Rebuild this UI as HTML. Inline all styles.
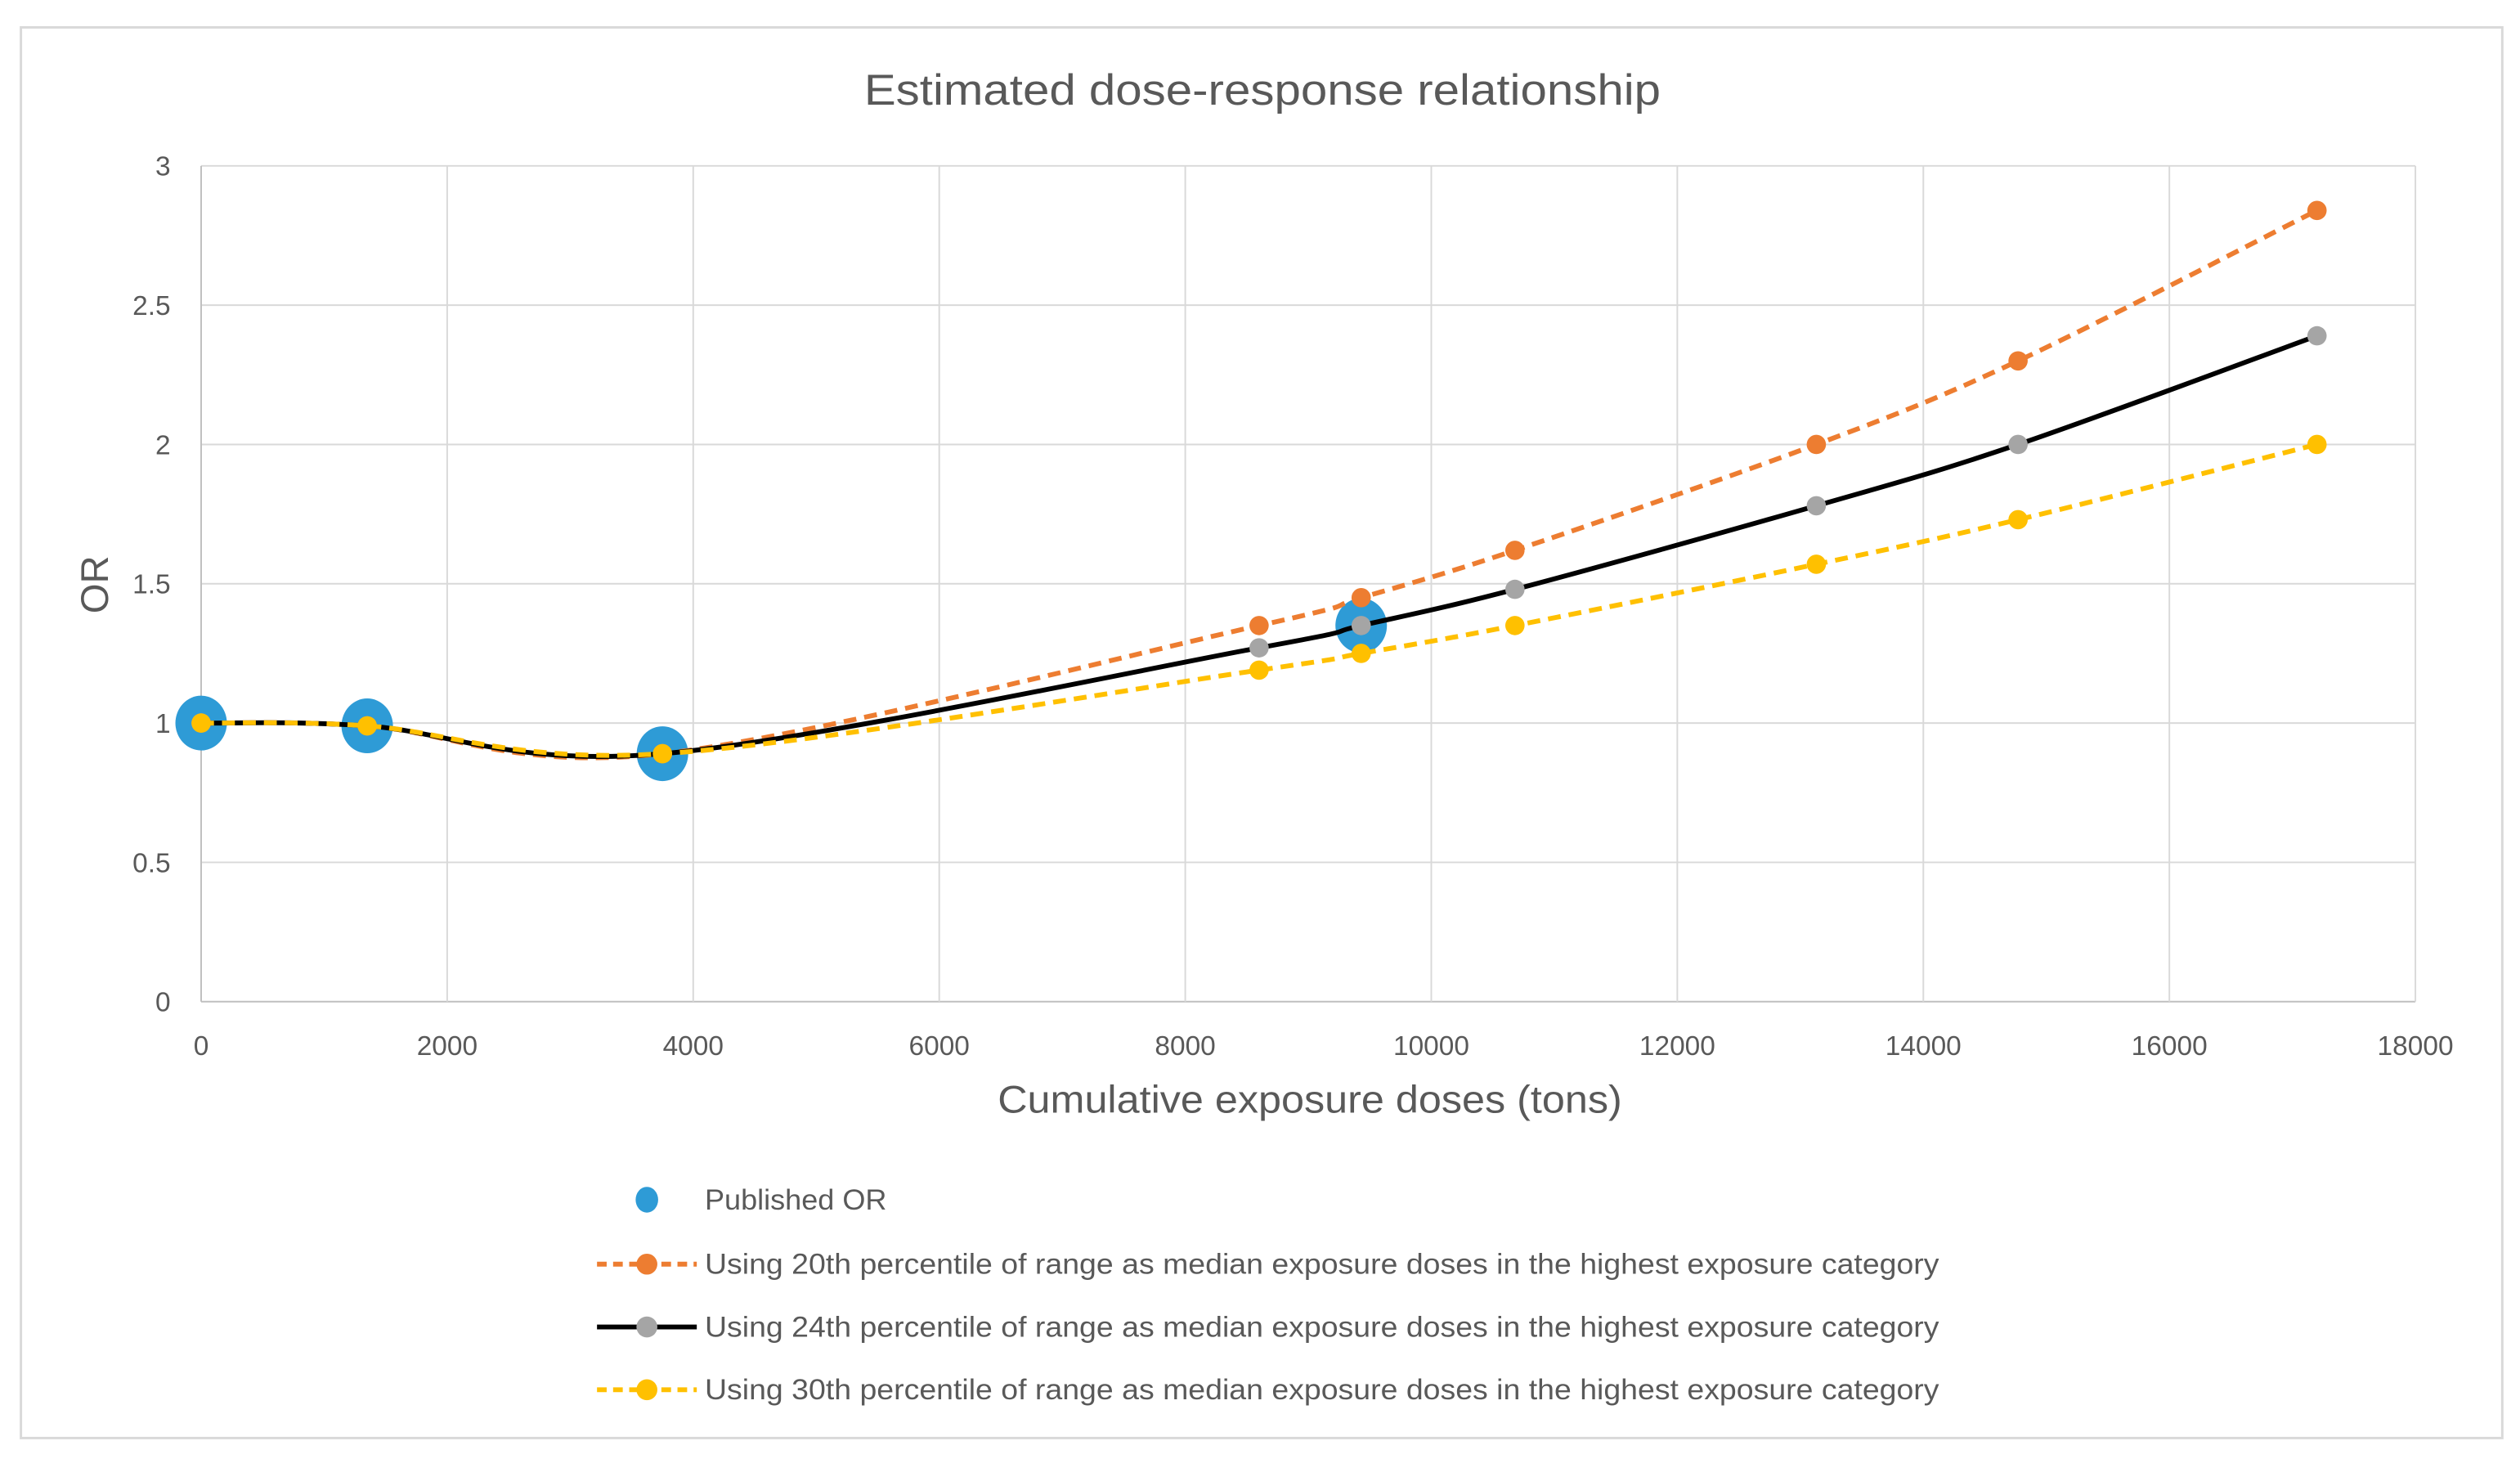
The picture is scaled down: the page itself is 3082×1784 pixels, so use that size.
<!DOCTYPE html>
<html><head><meta charset="utf-8"><style>
html,body{margin:0;padding:0;background:#fff}
svg{display:block}
text{font-family:"Liberation Sans",sans-serif;fill:#595959}
</style></head><body>
<svg id="chart" width="3082" height="1784" viewBox="0 0 1566 906" preserveAspectRatio="none" xmlns="http://www.w3.org/2000/svg">
<rect x="13" y="17" width="1542" height="876" fill="#fff" stroke="#d9d9d9" stroke-width="1.5"/>
<text x="537" y="65" font-size="27" textLength="495" lengthAdjust="spacingAndGlyphs">Estimated dose-response relationship</text>
<g id="grid"></g><g id="series"></g>
<text transform="translate(67,363) rotate(-90)" font-size="24" text-anchor="middle">OR</text>
<text x="620" y="691" font-size="24" textLength="388" lengthAdjust="spacingAndGlyphs">Cumulative exposure doses (tons)</text>
<g id="legend"></g>
</svg>
<script>
const xs = [0,1350,3750,8600,9430,10680,13130,14770,17200];
const p20 = [1,0.99,0.89,1.35,1.45,1.62,2.0,2.30,2.84];
const p24 = [1,0.99,0.89,1.27,1.35,1.48,1.78,2.0,2.39];
const p30 = [1,0.99,0.89,1.19,1.25,1.35,1.57,1.73,2.0];
const pubX = [0,1350,3750,9430];
const pubY = [1,0.99,0.89,1.35];
const xTicks = [0,2000,4000,6000,8000,10000,12000,14000,16000,18000];
const yTicks = [0,0.5,1,1.5,2,2.5,3];
const legendLabels = ["Published OR","Using 20th percentile of range as median exposure doses in the highest exposure category","Using 24th percentile of range as median exposure doses in the highest exposure category","Using 30th percentile of range as median exposure doses in the highest exposure category"];
const NS="http://www.w3.org/2000/svg";
const X=v=>125+v/18000*1376, Y=v=>622-v/3*519;
function mk(tag,attrs,parent){const e=document.createElementNS(NS,tag);for(const k in attrs)e.setAttribute(k,attrs[k]);parent.appendChild(e);return e;}
const grid=document.getElementById('grid'), ser=document.getElementById('series'), leg=document.getElementById('legend');
yTicks.forEach(t=>{
  const l=mk('line',{x1:125,x2:1501,y1:Y(t),y2:Y(t),stroke:t===0?'#bfbfbf':'#d9d9d9','stroke-width':1},grid);
  
  
  const tx=mk('text',{x:106,y:Y(t)+6,'font-size':17,'text-anchor':'end'},grid);tx.textContent=t;
  
  
});
xTicks.forEach(t=>{
  const l=mk('line',{x1:X(t),x2:X(t),y1:103,y2:622,stroke:t===0?'#bfbfbf':'#d9d9d9','stroke-width':1},grid);
  
  
  const tx=mk('text',{x:X(t),y:655,'font-size':17,'text-anchor':'middle'},grid);tx.textContent=t;
  
  
});
function smooth(ys){
  const P=xs.map((x,i)=>[X(x),Y(ys[i])]);let d=`M${P[0][0]},${P[0][1]}`;
  for(let i=0;i<P.length-1;i++){const p0=P[i-1]||P[i],p1=P[i],p2=P[i+1],p3=P[i+2]||P[i+1];
    const c1=[p1[0]+(p2[0]-p0[0])/6,p1[1]+(p2[1]-p0[1])/6],c2=[p2[0]-(p3[0]-p1[0])/6,p2[1]-(p3[1]-p1[1])/6];
    d+=` C${c1[0]},${c1[1]} ${c2[0]},${c2[1]} ${p2[0]},${p2[1]}`;}
  return d;
}
pubX.forEach((x,i)=>{const c=mk('ellipse',{cx:X(x),cy:Y(pubY[i]),rx:16,ry:17,fill:'#2E9BD6'},ser);
  
  });
const S=[[p20,'#ED7D31','#ED7D31','8,5','series-20th'],[p24,'#000','#A5A5A5','','series-24th'],[p30,'#FFC000','#FFC000','8,5','series-30th']];
S.forEach(([ys,lc,mc,dash,nm])=>{
  const p=mk('path',{d:smooth(ys),fill:'none',stroke:lc,'stroke-width':3,'stroke-dasharray':dash},ser);
  
  
  xs.forEach((x,i)=>{const c=mk('circle',{cx:X(x),cy:Y(ys[i]),r:6,fill:mc},ser);
    
    });
});
const ly=[745,785,824,863];
legendLabels.forEach((lab,i)=>{
  const g=mk('g',{},leg);
  
  
  if(i===0){mk('ellipse',{cx:402,cy:ly[i],rx:7,ry:8,fill:'#2E9BD6'},g);}
  else{const s=S[i-1];mk('line',{x1:371,x2:433,y1:ly[i],y2:ly[i],stroke:s[1],'stroke-width':3,'stroke-dasharray':s[3]?'6,4':''},g);
    mk('circle',{cx:402,cy:ly[i],r:6.5,fill:s[2]},g);}
  const t=mk('text',{x:438,y:ly[i]+6,'font-size':18,textLength:i===0?113:767,lengthAdjust:'spacingAndGlyphs'},g);t.textContent=lab;
});
</script>
</body></html>
